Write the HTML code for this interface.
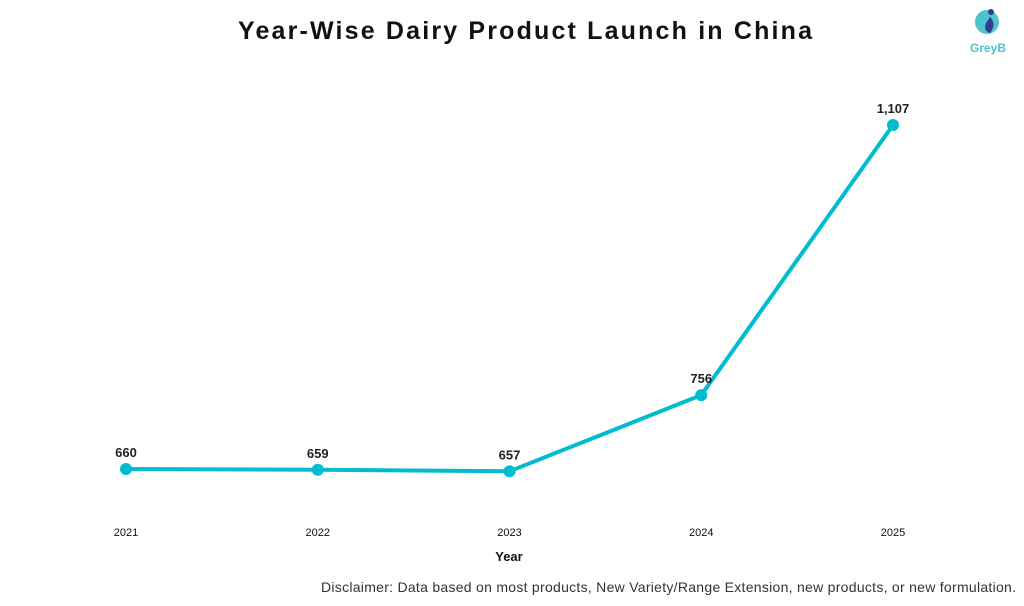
<!DOCTYPE html>
<html><head><meta charset="utf-8"><style>
body{margin:0;background:#fff;width:1024px;height:601px;overflow:hidden;font-family:"Liberation Sans",sans-serif}
</style></head><body>
<svg width="1024" height="601" viewBox="0 0 1024 601">
<text x="525" y="39" text-anchor="middle" font-size="25" font-weight="bold" textLength="574" lengthAdjust="spacing" fill="#111">Year-Wise Dairy Product Launch in China</text>
<g>
<circle cx="987" cy="22" r="12" fill="#4cc3cf"/>
<path d="M990 17 q7 7 0 16 q-7 -2 -4 -10z" fill="#2a3f8f"/>
<circle cx="991" cy="12" r="3" fill="#2a3f8f"/>
<text x="988" y="52" text-anchor="middle" font-size="12" font-weight="bold" fill="#4cc3cf">GreyB</text>
</g>
<g id="plot"></g>
<text x="509" y="561" text-anchor="middle" font-size="13" font-weight="bold" fill="#111">Year</text>
<text x="321" y="592" font-size="14" textLength="695" lengthAdjust="spacing" fill="#333">Disclaimer: Data based on most products, New Variety/Range Extension, new products, or new formulation.</text>
</svg>
<script>
const categories=["2021","2022","2023","2024","2025"];
const values=[660,659,657,756,1107];
const labels=["660","659","657","756","1,107"];
const NS="http://www.w3.org/2000/svg";
const g=document.getElementById('plot');
function xs(i){return 126+i*191.75;}
function ys(v){return 469-(v-660)*0.7696;}
let d=values.map((v,i)=>(i?'L':'M')+xs(i)+' '+ys(v)).join(' ');
const p=document.createElementNS(NS,'path');
p.setAttribute('d',d);p.setAttribute('fill','none');p.setAttribute('stroke','#00bccf');p.setAttribute('stroke-width','4');


g.appendChild(p);
values.forEach((v,i)=>{
 const c=document.createElementNS(NS,'circle');
 c.setAttribute('cx',xs(i));c.setAttribute('cy',ys(v));c.setAttribute('r','6');c.setAttribute('fill','#00bccf');
 
 
 g.appendChild(c);
 const t=document.createElementNS(NS,'text');
 t.setAttribute('x',xs(i));t.setAttribute('y',ys(v)-12);t.setAttribute('text-anchor','middle');
 t.setAttribute('font-size','13');t.setAttribute('font-weight','bold');t.setAttribute('fill','#222');
 t.textContent=labels[i];
 
 
 g.appendChild(t);
 const x=document.createElementNS(NS,'text');
 x.setAttribute('x',xs(i));x.setAttribute('y',536);x.setAttribute('text-anchor','middle');
 x.setAttribute('font-size','11');x.setAttribute('fill','#111');
 x.textContent=categories[i];
 
 
 g.appendChild(x);
});
</script>
</body></html>
